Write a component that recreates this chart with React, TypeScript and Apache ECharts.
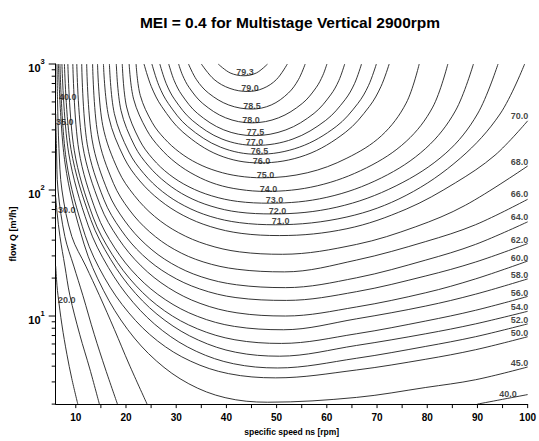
import React, { useEffect, useRef } from "react";
import * as echarts from "echarts";

type P = [number, number];

const titleText = "MEI = 0.4 for Multistage Vertical 2900rpm";
const xTicks = [10, 15, 20, 25, 30, 35, 40, 45, 50, 55, 60, 65, 70, 75, 80, 85, 90, 95, 100];
const xLabels = [10, 20, 30, 40, 50, 60, 70, 80, 90, 100];
const yTicks = [2, 3, 4, 5, 6, 7, 8, 9, 10, 20, 30, 40, 50, 60, 70, 80, 90, 100, 200, 300, 400, 500, 600, 700, 800, 900, 1000];
const yLabels = [10, 100, 1000];

const c79_3: P[] = [[38.36, 1000], [40.74, 850], [43.48, 807], [45.99, 850], [48.2, 1000]];
const c79: P[] = [[35.01, 1000], [37.55, 754], [40.7, 640], [44.27, 605], [47.3, 640], [49.98, 754], [52.14, 1000]];
const c78_5: P[] = [[32.45, 1000], [34.05, 750], [36.43, 588], [40.46, 473], [45.05, 439], [48.93, 473], [52.34, 588], [54.33, 750], [55.69, 1000]];
const c78: P[] = [[30.48, 1000], [31.27, 814], [32.61, 648], [35.29, 486], [39.85, 374], [45.05, 341], [50.39, 374], [55.1, 486], [57.85, 648], [59.21, 814], [60.02, 1000]];
const c77_5: P[] = [[28.51, 1000], [29.61, 737], [31.13, 568], [34.22, 406], [39.48, 300], [45.45, 270], [51.85, 300], [57.46, 406], [60.75, 568], [62.38, 737], [63.56, 1000]];
const c77: P[] = [[26.74, 1000], [28.02, 698], [29.73, 520], [33.2, 357], [39.11, 254], [45.84, 226], [53.26, 254], [59.78, 357], [63.62, 520], [65.51, 698], [66.91, 1000]];
const c76_5: P[] = [[25.16, 1000], [26.56, 673], [28.45, 485], [32.29, 319], [38.81, 219], [46.24, 192], [54.56, 219], [61.87, 319], [66.16, 485], [68.29, 673], [69.87, 1000]];
const c76: P[] = [[23.59, 1000], [25.05, 661], [27.13, 459], [31.33, 288], [38.5, 189], [46.63, 164], [55.75, 189], [63.76, 288], [68.45, 459], [70.77, 661], [72.42, 1000]];
const c75: P[] = [[22.01, 1000], [22.84, 564], [25.24, 342], [27.66, 256], [30.68, 199], [34.18, 163], [38.14, 141], [42.45, 129], [47.22, 125], [56.1, 137], [64.0, 179], [70.9, 270], [75.8, 489], [78.4, 1000]];
const c74: P[] = [[20.63, 1000], [21.52, 526], [24.12, 300], [26.72, 217], [29.97, 164], [33.77, 131], [38.02, 111], [42.69, 101], [47.81, 97.5], [58.1, 108], [67.9, 150], [75.8, 243], [81.1, 455], [84.1, 1000]];
const c73: P[] = [[19.26, 1000], [20.12, 456], [22.7, 249], [25.32, 177], [28.61, 133], [32.55, 106], [37.06, 89.9], [42.2, 81.2], [48.6, 78.6], [60.0, 87.5], [70.9, 125], [79.7, 214], [85.6, 424], [89.2, 1000]];
const c72: P[] = [[18.07, 1000], [19.0, 429], [21.74, 223], [24.51, 155], [28.0, 114], [32.15, 89.0], [36.94, 74.5], [42.39, 66.8], [49.19, 64.6], [62.0, 73.1], [73.8, 108], [83.7, 196], [90.0, 401], [94.1, 1000]];
const c71: P[] = [[16.7, 1000], [17.68, 404], [20.59, 200], [23.55, 135], [27.25, 97.2], [31.68, 74.8], [36.76, 61.8], [42.57, 55.1], [49.78, 53.0], [64.0, 61.1], [75.8, 90.7], [86.6, 179], [94.5, 401], [99.4, 1000]];
const c70: P[] = [[15.51, 1000], [16.56, 380], [19.63, 180], [22.76, 118], [26.7, 83.2], [31.39, 62.9], [36.78, 51.3], [42.93, 45.3], [50.57, 43.5], [64.0, 49.3], [75.8, 70.5], [85.6, 114], [93.5, 189], [100, 354]];
const c68: P[] = [[14.33, 1000], [15.38, 324], [18.49, 142], [21.68, 90.3], [25.68, 61.8], [30.5, 45.8], [36.09, 36.9], [42.59, 32.3], [51.16, 30.9], [65.9, 37.0], [77.7, 51.1], [87.6, 75.7], [100, 155]];
const c66: P[] = [[13.35, 1000], [14.39, 276], [17.5, 113], [20.69, 69.4], [24.73, 46.5], [29.61, 33.8], [35.36, 26.9], [42.14, 23.5], [51.55, 22.4], [65.9, 27.8], [79.7, 39.0], [89.6, 53.0], [100, 84.4]];
const c64: P[] = [[12.17, 1000], [13.25, 250], [16.46, 95.8], [19.77, 56.8], [23.96, 36.9], [29.02, 26.2], [34.97, 20.5], [42.0, 17.7], [51.75, 16.8], [65.9, 20.1], [79.7, 27.8], [89.6, 37.0], [100, 55.9]];
const c62: P[] = [[11.18, 1000], [12.28, 231], [15.61, 83.8], [19.02, 48.2], [23.31, 30.5], [28.53, 21.3], [34.68, 16.4], [41.9, 14.0], [51.95, 13.3], [65.9, 15.6], [79.7, 20.8], [89.6, 26.8], [100, 37.6]];
const c60: P[] = [[10.2, 1000], [11.38, 225], [14.88, 75.5], [18.47, 41.3], [23.0, 25.0], [28.43, 16.8], [34.75, 12.6], [42.1, 10.6], [51.75, 10.0], [65.9, 11.8], [79.7, 15.3], [89.6, 19.7], [100, 27.3]];
const c58: P[] = [[9.41, 1000], [10.61, 207], [14.16, 65.5], [17.76, 34.7], [22.33, 20.5], [27.82, 13.5], [34.2, 9.95], [41.61, 8.27], [51.35, 7.78], [65.9, 9.5], [79.7, 12.0], [89.6, 14.9], [100, 19.7]];
const c56: P[] = [[8.42, 1000], [9.69, 207], [13.43, 61.1], [17.23, 30.9], [21.99, 17.4], [27.68, 11.0], [34.22, 7.92], [41.69, 6.48], [50.96, 6.06], [65.9, 7.23], [79.7, 9.13], [89.6, 11.1], [100, 14.3]];
const c54: P[] = [[7.74, 1000], [9.05, 210], [12.99, 58.2], [16.95, 28.1], [21.91, 15.1], [27.76, 9.23], [34.42, 6.44], [41.84, 5.16], [50.57, 4.8], [65.9, 5.84], [79.7, 7.23], [89.6, 8.66], [100, 10.9]];
const c52: P[] = [[7.24, 1000], [8.58, 197], [12.5, 51.9], [16.48, 24.3], [21.44, 12.8], [27.31, 7.64], [33.99, 5.25], [41.43, 4.18], [50.17, 3.87], [65.9, 4.62], [79.7, 5.74], [89.6, 6.85], [100, 8.66]];
const c50: P[] = [[6.85, 1000], [8.13, 170], [11.89, 43.4], [15.73, 20.1], [20.56, 10.6], [26.29, 6.34], [32.88, 4.38], [40.43, 3.49], [49.78, 3.23], [65.9, 3.73], [79.7, 4.54], [89.6, 5.4], [100, 6.85]];
const c45: P[] = [[6.55, 1000], [7.85, 164], [11.65, 37.2], [15.51, 16.0], [20.34, 7.81], [26.03, 4.41], [32.51, 2.9], [39.74, 2.25], [48.2, 2.07], [65.9, 2.26], [79.7, 2.71], [89.6, 3.12], [100, 3.94]];
const c40a: P[] = [[6.26, 1000], [6.36, 525], [6.65, 214], [7.24, 100], [9.21, 42.7], [12.0, 24.9], [14.7, 14.6], [17.7, 7.8], [20.6, 4.16], [24.2, 2.0]];
const c40b: P[] = [[90, 2.0], [100, 2.38]];
const c35: P[] = [[6.0, 401], [6.16, 214], [6.46, 100], [7.83, 42.7], [9.6, 24.9], [11.4, 14.6], [13.7, 7.1], [15.9, 3.8], [18.3, 2.0]];
const c30: P[] = [[6.0, 87.5], [6.26, 66.9], [6.85, 42.7], [7.83, 24.9], [8.82, 14.6], [10.8, 7.1], [12.8, 3.8], [14.7, 2.0]];
const c20: P[] = [[6.0, 24.9], [6.26, 17.4], [6.46, 14.6], [7.24, 8.5], [8.23, 4.97], [9.21, 3.18], [10.4, 2.0]];

const contourLines: P[][] = [
  c79_3, c79, c78_5, c78, c77_5, c77, c76_5, c76, c75, c74, c73, c72, c71,
  c70, c68, c66, c64, c62, c60, c58, c56, c54, c52, c50, c45, c40a, c40b, c35, c30, c20,
];

const labelTexts = [
  "79.3", "79.0", "78.5", "78.0", "77.5", "77.0", "76.5", "76.0", "75.0", "74.0", "73.0", "72.0", "71.0",
  "70.0", "68.0", "66.0", "64.0", "62.0", "60.0", "58.0", "56.0", "54.0", "52.0", "50.0", "45.0", "40.0",
  "40.0", "35.0", "30.0", "20.0",
];
const labelAt: P[] = [
  [43.7, 870], [44.7, 640], [45.1, 463], [44.9, 360], [45.8, 290], [45.6, 240], [46.6, 203], [47.0, 170],
  [47.8, 132], [48.4, 102.6], [49.6, 83], [50.2, 68], [50.8, 57],
  [98.4, 386], [98.4, 167], [98.4, 92.2], [98.4, 61.1], [98.4, 40.4], [98.4, 28.8], [98.4, 21.2], [98.4, 15.3],
  [98.4, 11.8], [98.4, 9.3], [98.4, 7.4], [98.4, 4.23], [96.1, 2.39],
  [8.4, 544], [7.8, 348], [8.2, 69.4], [8.2, 13.5],
];

export default function App() {
  const ref = useRef<HTMLDivElement>(null);
  useEffect(() => {
    if (!ref.current) return;
    const chart = echarts.init(ref.current, undefined, { renderer: "svg" });
    const font = "'Liberation Sans', Arial, sans-serif";
    const lineSeries = contourLines.map((pts) => ({
      type: "line",
      data: pts,
      smooth: 0.35,
      showSymbol: false,
      symbol: "none",
      clip: true,
      lineStyle: { color: "#1e1e1e", width: 0.9 },
      silent: true,
      z: 2,
    }));
    const xMin = 6;
    const yMin = 2;
    chart.setOption({
      animation: false,
      grid: { left: 55.7, right: 6, top: 64, bottom: 30 },
      graphic: [
        {
          type: "text",
          x: 290,
          y: 22,
          style: {
            text: titleText,
            fontFamily: font,
            fontWeight: "bold",
            fontSize: 15.5,
            fill: "#000",
            textAlign: "center",
            textVerticalAlign: "middle",
          },
        },
      ],
      xAxis: {
        type: "value",
        min: xMin,
        max: 100,
        name: "specific speed ns [rpm]",
        nameLocation: "middle",
        nameGap: 19,
        nameTextStyle: { fontFamily: font, fontWeight: "bold", fontSize: 8.5, color: "#000" },
        axisLine: { show: true, lineStyle: { color: "#000", width: 1 } },
        axisTick: { show: false },
        axisLabel: { customValues: xLabels, fontFamily: font, fontWeight: "bold", fontSize: 10, color: "#000", margin: 8 },
        splitLine: { show: false },
      },
      yAxis: {
        type: "log",
        logBase: 10,
        min: yMin,
        max: 1000,
        name: "flow Q [m³/h]",
        nameLocation: "middle",
        nameGap: 38,
        nameTextStyle: { fontFamily: font, fontWeight: "bold", fontSize: 9, color: "#000" },
        axisLine: { show: true, lineStyle: { color: "#000", width: 1 } },
        axisTick: { show: false },
        axisLabel: {
          customValues: yLabels,
          margin: 11,
          formatter: (v: number) => `{b|10}{s|${Math.round(Math.log10(v))}}`,
          rich: {
            b: { fontFamily: font, fontWeight: "bold", fontSize: 11, color: "#000", padding: [8, 0, 0, 0] },
            s: { fontFamily: font, fontWeight: "bold", fontSize: 7.5, color: "#000", padding: [0, 0, 6, 0] },
          },
        },
        splitLine: { show: false },
      },
      series: [
        ...lineSeries,
        {
          type: "custom",
          silent: true,
          clip: false,
          z: 5,
          data: xTicks.map((v) => [v, yMin]),
          renderItem: (_params: any, api: any) => {
            const p = api.coord([api.value(0), api.value(1)]);
            return {
              type: "line",
              shape: { x1: p[0], y1: p[1], x2: p[0], y2: p[1] + 4 },
              style: { stroke: "#000", lineWidth: 1 },
            };
          },
        },
        {
          type: "custom",
          silent: true,
          clip: false,
          z: 5,
          data: yTicks.map((v) => [xMin, v]),
          renderItem: (_params: any, api: any) => {
            const v = api.value(1);
            const p = api.coord([api.value(0), v]);
            const major = yLabels.indexOf(v) >= 0;
            return {
              type: "line",
              shape: { x1: p[0], y1: p[1], x2: p[0] - (major ? 7 : 4), y2: p[1] },
              style: { stroke: "#000", lineWidth: 1 },
            };
          },
        },
        {
          type: "scatter",
          symbolSize: 0,
          silent: true,
          clip: false,
          z: 6,
          data: labelAt.map((p, i) => ({ value: p, name: labelTexts[i] })),
          label: {
            show: true,
            position: "inside",
            formatter: (p: any) => p.name,
            fontFamily: font,
            fontWeight: "bold",
            fontSize: 9,
            lineHeight: 8,
            color: "#111",
          },
        },
      ],
    });
    return () => chart.dispose();
  }, []);
  return <div ref={ref} style={{ position: "absolute", left: 0, top: 0, width: 539, height: 441, background: "#fff" }} />;
}
